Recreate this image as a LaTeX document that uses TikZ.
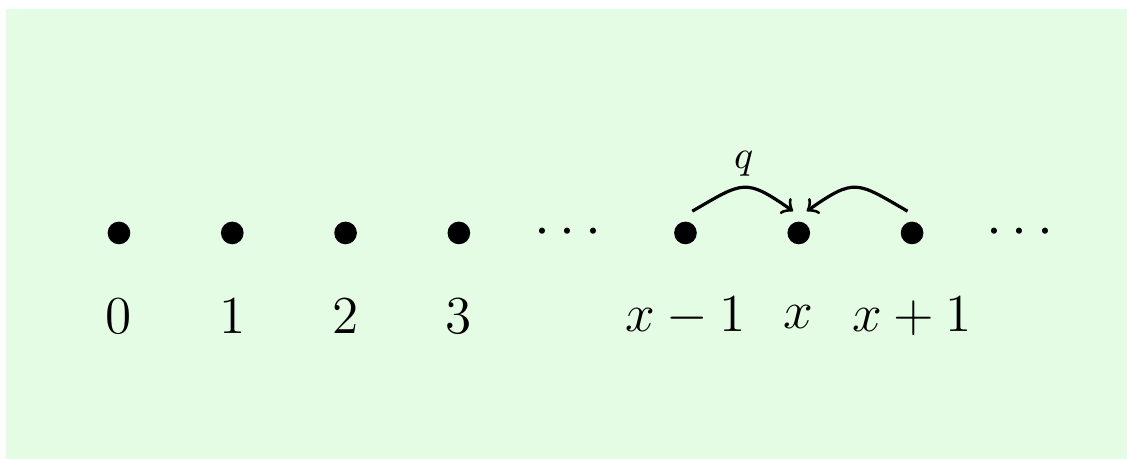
\documentclass[tikz,border=0pt]{standalone}
\usepackage{tikz}
\usetikzlibrary{arrows, positioning}
\definecolor{paleGreen}{RGB}{228,252,228}

\begin{document}
\begin{tikzpicture}[
    site/.style={circle, fill=black, minimum size=0.2cm, inner sep=0pt},
    sitelabel/.style={font=\Large, scale=0.93, transform shape},
    gap/.style={font=\Large},
    jump/.style={thick, ->, looseness=1.5}
]
\useasboundingbox (-1.05,-1.995) rectangle (8.897,2.056);
\fill[paleGreen] (-0.997,-1.995) rectangle (8.897,1.977);
\node[site] (d0) at (0,0) {};
\node[site] (d1) at (1,0) {};
\node[site] (d2) at (2,0) {};
\node[site] (d3) at (3,0) {};
\node[gap] (g1) at (3.96,0) {$\cdots$};
\node[site] (dxm) at (5,0) {};
\node[site] (dx) at (6,0) {};
\node[site] (dxp) at (7,0) {};
\node[gap] (g2) at (7.95,0) {$\cdots$};
\node[sitelabel] (l0) at (0,-0.74) {$0$};
\node[sitelabel] (l1) at (1,-0.74) {$1$};
\node[sitelabel] (l2) at (2,-0.74) {$2$};
\node[sitelabel] (l3) at (3,-0.74) {$3$};
\node[sitelabel] (lxm) at (5,-0.74) {$x-1$};
\node[sitelabel] (lx) at (6,-0.74) {$x$};
\node[sitelabel] (lxp) at (7,-0.74) {$x+1$};
\draw[jump] ([shift={(0.06,0.085)}]dxm.north) to[out=30,in=145] node[above=-1pt] {$q$} ([shift={(-0.05,0.085)}]dx.north);
\draw[jump] ([shift={(-0.04,0.085)}]dxp.north) to[out=150,in=35] ([shift={(0.07,0.085)}]dx.north);
\end{tikzpicture}
\end{document}
